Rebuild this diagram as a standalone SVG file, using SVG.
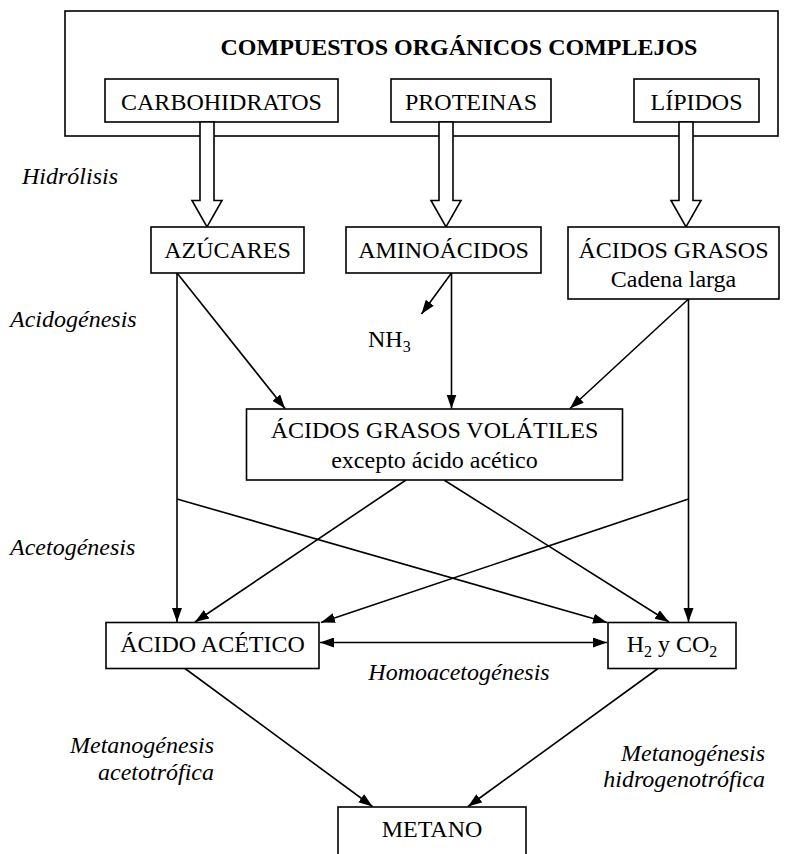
<svg xmlns="http://www.w3.org/2000/svg" width="797" height="854" viewBox="0 0 797 854">
<style>
.box{fill:#fff;stroke:#000;stroke-width:1.6}
.t{font-family:"Liberation Serif","Times New Roman",serif;font-size:24px;fill:#000}
.c{text-anchor:middle}
.i{font-style:italic}
.b{font-weight:bold}
.ln{fill:none;stroke:#000;stroke-width:1.6}
.ar{marker-end:url(#ah)}
.hol{fill:#fff;stroke:#000;stroke-width:1.6}
</style>
<defs>
<marker id="ah" markerUnits="userSpaceOnUse" markerWidth="15" markerHeight="11" refX="14" refY="5" orient="auto">
<path d="M0,0 L14,5 L0,10 z" fill="#000"/>
</marker>
<marker id="as" markerUnits="userSpaceOnUse" markerWidth="15" markerHeight="11" refX="0" refY="5" orient="auto">
<path d="M14,0 L0,5 L14,10 z" fill="#000"/>
</marker>
</defs>
<rect width="797" height="854" fill="#fff"/>

<g id="complejos">
<rect class="box" x="65" y="11" width="713" height="125"/>
<text class="t c b" x="459" y="55">COMPUESTOS ORGÁNICOS COMPLEJOS</text>
</g>
<g id="carbohidratos">
<rect class="box" x="105" y="79" width="233" height="43"/>
<text class="t c" x="221.5" y="110">CARBOHIDRATOS</text>
</g>
<g id="proteinas">
<rect class="box" x="391" y="79" width="160" height="43"/>
<text class="t c" x="471" y="110">PROTEINAS</text>
</g>
<g id="lipidos">
<rect class="box" x="634" y="79" width="125" height="43"/>
<text class="t c" x="696.5" y="110">LÍPIDOS</text>
</g>

<g id="labels">
<text class="t i" x="22" y="184">Hidrólisis</text>
<text class="t i" x="10" y="327">Acidogénesis</text>
<text class="t i" x="10" y="555">Acetogénesis</text>
<text class="t i c" x="459" y="680">Homoacetogénesis</text>
<text class="t i" x="214" y="753" text-anchor="end">Metanogénesis</text>
<text class="t i" x="214" y="780" text-anchor="end">acetotrófica</text>
<text class="t i" x="765" y="761" text-anchor="end">Metanogénesis</text>
<text class="t i" x="765" y="787" text-anchor="end">hidrogenotrófica</text>
</g>

<g id="connectors">
<path class="hol" d="M200,122 L214,122 L214,200.5 L222,200.5 L207,227 L192,200.5 L200,200.5 z"/>
<path class="hol" d="M439,122 L453,122 L453,200.5 L461,200.5 L446,227 L431,200.5 L439,200.5 z"/>
<path class="hol" d="M679,122 L693,122 L693,200.5 L701,200.5 L686,227 L671,200.5 L679,200.5 z"/>

<line class="ln ar" x1="177" y1="273" x2="177" y2="622"/>
<line class="ln ar" x1="177" y1="273" x2="285" y2="408.5"/>
<line class="ln ar" x1="451.5" y1="273" x2="451.5" y2="408.5"/>
<line class="ln ar" x1="451.5" y1="273" x2="421.5" y2="314"/>
<line class="ln ar" x1="688.5" y1="299" x2="688.5" y2="622"/>
<line class="ln ar" x1="688.5" y1="299" x2="570" y2="408.5"/>

<line class="ln ar" x1="177" y1="499" x2="607" y2="622.5"/>
<line class="ln ar" x1="688.5" y1="499" x2="321" y2="622.5"/>
<line class="ln ar" x1="406" y1="480" x2="195" y2="622"/>
<line class="ln ar" x1="444" y1="480" x2="669" y2="622"/>

<line class="ln ar" x1="320" y1="642.5" x2="607" y2="642.5" marker-start="url(#as)"/>

<line class="ln ar" x1="185" y1="668.5" x2="372.5" y2="806.5"/>
<line class="ln ar" x1="658" y1="668.5" x2="468" y2="806.5"/>
</g>

<g id="azucares">
<rect class="box" x="151" y="227" width="153" height="46"/>
<text class="t c" x="227.5" y="258">AZÚCARES</text>
</g>
<g id="aminoacidos">
<rect class="box" x="346" y="227" width="195" height="46"/>
<text class="t c" x="443.5" y="258">AMINOÁCIDOS</text>
</g>
<g id="acidos-grasos">
<rect class="box" x="568" y="227" width="211" height="72"/>
<text class="t c" x="673.5" y="258">ÁCIDOS GRASOS</text>
<text class="t c" x="673.5" y="287">Cadena larga</text>
</g>
<g id="nh3">
<text class="t" x="368" y="347">NH<tspan font-size="16" dy="5">3</tspan></text>
</g>
<g id="volatiles">
<rect class="box" x="246.5" y="409" width="376" height="71"/>
<text class="t c" x="434.5" y="438">ÁCIDOS GRASOS VOLÁTILES</text>
<text class="t c" x="434.5" y="468">excepto ácido acético</text>
</g>
<g id="acido-acetico">
<rect class="box" x="106" y="622.5" width="213" height="46"/>
<text class="t c" x="212.5" y="652">ÁCIDO ACÉTICO</text>
</g>
<g id="h2-co2">
<rect class="box" x="608" y="622.5" width="128" height="46"/>
<text class="t c" x="672" y="652">H<tspan font-size="16" dy="5">2</tspan><tspan dy="-5"> y CO</tspan><tspan font-size="16" dy="5">2</tspan></text>
</g>
<g id="metano">
<rect class="box" x="338" y="807" width="188" height="70"/>
<text class="t c" x="432" y="837">METANO</text>
</g>
</svg>
